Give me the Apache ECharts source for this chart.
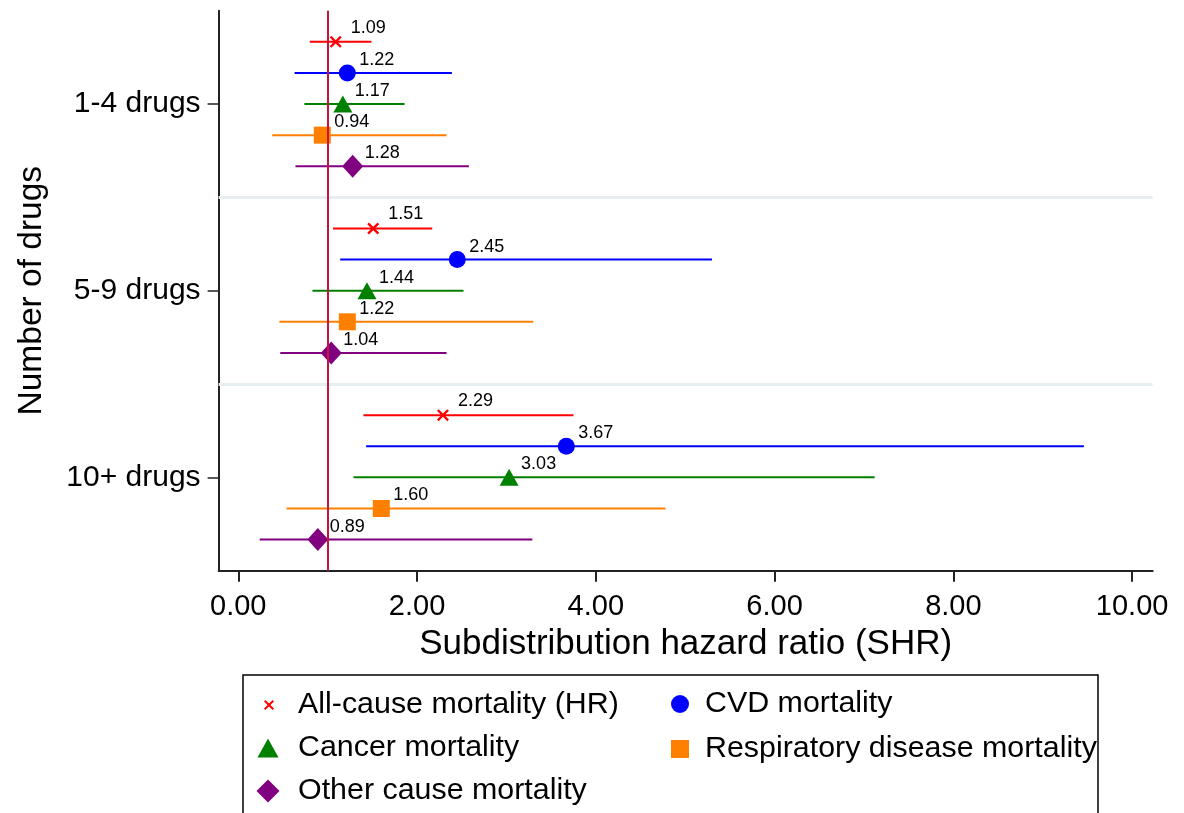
<!DOCTYPE html>
<html>
<head>
<meta charset="utf-8">
<script src="https://cdn.jsdelivr.net/npm/echarts@6/dist/echarts.min.js"></script>
<style>
  html, body { margin: 0; padding: 0; background: #ffffff; }
  #chart { width: 1184px; height: 813px; }
</style>
</head>
<body>
<div id="chart"></div>
<script>
// Drug-count groups shown on the vertical axis
const groups = ['1-4 drugs', '5-9 drugs', '10+ drugs'];

// Outcome names (legend order)
const causeNames = [
  'All-cause mortality (HR)',
  'CVD mortality',
  'Cancer mortality',
  'Respiratory disease mortality',
  'Other cause mortality'
];

// Point estimates and 95% CI bounds, one value per drug group
const allCauseEst = [1.09, 1.51, 2.29];
const allCauseLo  = [0.80, 1.06, 1.40];
const allCauseHi  = [1.49, 2.17, 3.75];

const cvdEst = [1.22, 2.45, 3.67];
const cvdLo  = [0.63, 1.14, 1.43];
const cvdHi  = [2.39, 5.30, 9.46];

const cancerEst = [1.17, 1.44, 3.03];
const cancerLo  = [0.74, 0.83, 1.29];
const cancerHi  = [1.86, 2.52, 7.12];

const respEst = [0.94, 1.22, 1.60];
const respLo  = [0.38, 0.46, 0.54];
const respHi  = [2.33, 3.30, 4.78];

const otherEst = [1.28, 1.04, 0.89];
const otherLo  = [0.64, 0.47, 0.24];
const otherHi  = [2.58, 2.33, 3.29];

// Axis tick values
const xTicks = [0, 2, 4, 6, 8, 10];
const referenceValue = 1;

const FONT = "'Liberation Sans', Arial, Helvetica, sans-serif";
const CROSS = 'path://M1.4,0L5,3.6L8.6,0L10,1.4L6.4,5L10,8.6L8.6,10L5,6.4L1.4,10L0,8.6L3.6,5L0,1.4Z';

// Per-outcome drawing style
const causeStyles = [
  { est: allCauseEst, lo: allCauseLo, hi: allCauseHi, color: '#ff0000', symbol: CROSS,      size: 12,       offset: [15, -14],
    legend: { left: 264,   top: 689, w: 10, h: 10, pad: 19 } },
  { est: cvdEst,      lo: cvdLo,      hi: cvdHi,      color: '#0000ff', symbol: 'circle',   size: 17,       offset: [12, -13],
    legend: { left: 671,   top: 688, w: 18, h: 18, pad: 11 } },
  { est: cancerEst,   lo: cancerLo,   hi: cancerHi,   color: '#008000', symbol: 'triangle', size: [19, 17], offset: [12, -13],
    legend: { left: 257.5, top: 732, w: 21, h: 19, pad: 14.5 } },
  { est: respEst,     lo: respLo,     hi: respHi,     color: '#ff8000', symbol: 'rect',     size: 17,       offset: [12, -13],
    legend: { left: 671,   top: 733, w: 18, h: 18, pad: 11 } },
  { est: otherEst,    lo: otherLo,    hi: otherHi,    color: '#800080', symbol: 'diamond',  size: [21, 23], offset: [12, -13],
    legend: { left: 256.5, top: 775, w: 23, h: 23, pad: 13.5 } }
];

// Row position of an outcome inside a group (one empty slot between groups)
const rowOf = (g, c) => g * 6 + c + 1;

const series = [];

// Light separators between the drug groups
series.push({
  type: 'scatter', data: [], silent: true, z: 1,
  markLine: {
    silent: true, symbol: 'none', label: { show: false },
    lineStyle: { color: '#e7eef2', width: 3, type: 'solid' },
    data: [{ yAxis: 6 }, { yAxis: 12 }]
  }
});

causeStyles.forEach((s, c) => {
  const ciData = groups.map((_, g) => [s.lo[g], s.hi[g], rowOf(g, c)]);
  const ptData = groups.map((_, g) => [s.est[g], rowOf(g, c)]);

  // Confidence interval bars
  series.push({
    type: 'custom',
    name: causeNames[c] + ' CI',
    data: ciData,
    encode: { x: [0, 1], y: 2 },
    z: 2,
    silent: true,
    renderItem: (params, api) => {
      const a = api.coord([api.value(0), api.value(2)]);
      const b = api.coord([api.value(1), api.value(2)]);
      return {
        type: 'line',
        shape: { x1: a[0], y1: a[1], x2: b[0], y2: b[1] },
        style: { stroke: s.color, lineWidth: 2 }
      };
    }
  });

  // Point estimates with value labels
  series.push({
    type: 'scatter',
    name: causeNames[c],
    data: ptData,
    symbol: s.symbol,
    symbolSize: s.size,
    z: 4,
    itemStyle: { color: s.color, opacity: 1 },
    label: {
      show: true,
      position: 'inside',
      align: 'left',
      verticalAlign: 'middle',
      offset: s.offset,
      color: '#000',
      fontFamily: FONT,
      fontSize: 18,
      formatter: p => p.value[0].toFixed(2)
    },
    emphasis: { disabled: true }
  });
});

// Reference line at SHR = 1
series.push({
  type: 'scatter', data: [], silent: true, z: 3,
  markLine: {
    silent: true, symbol: 'none', label: { show: false },
    lineStyle: { color: '#c8143c', width: 2, type: 'solid' },
    data: [{ xAxis: referenceValue }]
  }
});

// One legend block per outcome, arranged in two columns
const legends = causeStyles.map((s, c) => ({
  data: [causeNames[c]],
  left: s.legend.left,
  top: s.legend.top,
  orient: 'vertical',
  padding: 0,
  selectedMode: false,
  itemWidth: s.legend.w,
  itemHeight: s.legend.h,
  textStyle: {
    fontFamily: FONT, fontSize: 30.4, lineHeight: 32, color: '#000',
    padding: [0, 0, 0, s.legend.pad]
  }
}));

const option = {
  animation: false,
  backgroundColor: '#ffffff',
  grid: { left: 218.6, right: 31.3, top: 10.7, bottom: 242.3 },
  xAxis: {
    type: 'value',
    min: -0.22,
    max: 10.23,
    name: 'Subdistribution hazard ratio (SHR)',
    nameLocation: 'middle',
    nameGap: 45,
    nameTextStyle: { fontFamily: FONT, fontSize: 35, color: '#000' },
    axisLine: { show: true, onZero: false, lineStyle: { color: '#222', width: 2 } },
    axisTick: { show: true, customValues: xTicks, length: 11, lineStyle: { color: '#222', width: 2 } },
    axisLabel: {
      customValues: xTicks, margin: 22,
      fontFamily: FONT, fontSize: 29, color: '#000',
      formatter: v => v.toFixed(2)
    },
    splitLine: { show: false }
  },
  yAxis: {
    type: 'value',
    min: 0,
    max: 18,
    inverse: true,
    name: 'Number of drugs',
    nameLocation: 'middle',
    nameGap: 170,
    nameTextStyle: { fontFamily: FONT, fontSize: 33.5, color: '#000' },
    axisLine: { show: true, onZero: false, lineStyle: { color: '#222', width: 2 } },
    axisTick: { show: true, customValues: [3, 9, 15], length: 11, lineStyle: { color: '#222', width: 1.5 } },
    axisLabel: {
      customValues: [3, 9, 15], margin: 18,
      fontFamily: FONT, fontSize: 30, color: '#000',
      formatter: v => groups[Math.round((v - 3) / 6)]
    },
    splitLine: { show: false }
  },
  legend: legends,
  graphic: [{
    type: 'rect',
    silent: true,
    shape: { x: 243, y: 675, width: 855, height: 200 },
    style: { fill: 'none', stroke: '#000', lineWidth: 1.5 }
  }],
  series: series
};

const chart = echarts.init(document.getElementById('chart'), null, { renderer: 'canvas' });
chart.setOption(option);
</script>
</body>
</html>
